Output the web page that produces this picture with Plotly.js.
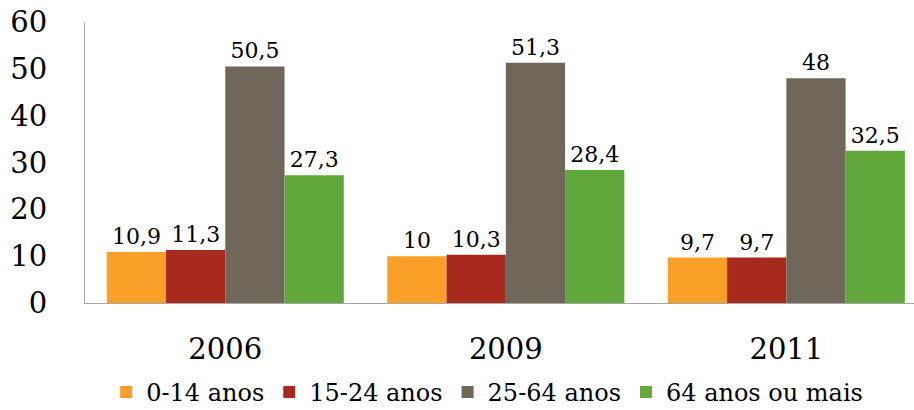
<!DOCTYPE html>
<html>
<head>
<meta charset="utf-8">
<script src="https://cdn.plot.ly/plotly-3.0.1.min.js"></script>
<style>html,body{margin:0;padding:0;background:#fff}#chart{width:914px;height:410px}</style>
</head>
<body>
<div id="chart"></div>
<script>
const categories = ["2006", "2009", "2011"];
const seriesNames = ["0-14 anos", "15-24 anos", "25-64 anos", "64 anos ou mais"];
const s0_14 = [10.9, 10, 9.7];
const s15_24 = [11.3, 10.3, 9.7];
const s25_64 = [50.5, 51.3, 48];
const s64plus = [27.3, 28.4, 32.5];
const yTicks = [0, 10, 20, 30, 40, 50, 60];

const colors = ["#FAA028", "#A82A1F", "#6F675A", "#62A73C"];
const FONT = "DejaVu Serif";
const allSeries = [s0_14, s15_24, s25_64, s64plus];

const traces = allSeries.map((vals, i) => ({
  type: "bar",
  name: seriesNames[i],
  x: categories,
  y: vals,
  marker: {color: colors[i], line: {width: 0}},
  texttemplate: "%{y}",
  textposition: "outside",
  cliponaxis: false,
  textfont: {family: FONT, size: 22, color: "#000"},
  hoverinfo: "skip"
}));

const layout = {
  width: 914,
  height: 410,
  margin: {l: 85, r: 0, t: 22, b: 107},
  paper_bgcolor: "#fff",
  plot_bgcolor: "#fff",
  separators: ",.",
  barmode: "group",
  bargap: 0.155,
  bargroupgap: 0,
  showlegend: true,
  font: {family: FONT, color: "#000"},
  xaxis: {
    type: "category",
    range: [-0.5, 2.455],
    showline: true,
    linecolor: "#A6A6A6",
    linewidth: 1,
    ticks: "",
    showgrid: false,
    zeroline: false,
    tickfont: {family: FONT, size: 29, color: "#000"},
    ticklabelstandoff: 20
  },
  yaxis: {
    range: [0, 60],
    tickvals: yTicks,
    showline: true,
    linecolor: "#A6A6A6",
    linewidth: 1,
    ticks: "",
    showgrid: false,
    zeroline: false,
    tickfont: {family: FONT, size: 29, color: "#000"},
    ticklabelstandoff: 31
  },
  legend: {
    orientation: "h",
    xref: "container",
    yref: "container",
    x: 0.533,
    xanchor: "center",
    y: 0.043,
    yanchor: "middle",
    font: {family: FONT, size: 24, color: "#000"},
    itemwidth: 30,
    tracegroupgap: 0
  }
};

Plotly.newPlot("chart", traces, layout, {displayModeBar: false, staticPlot: true});
</script>
</body>
</html>
